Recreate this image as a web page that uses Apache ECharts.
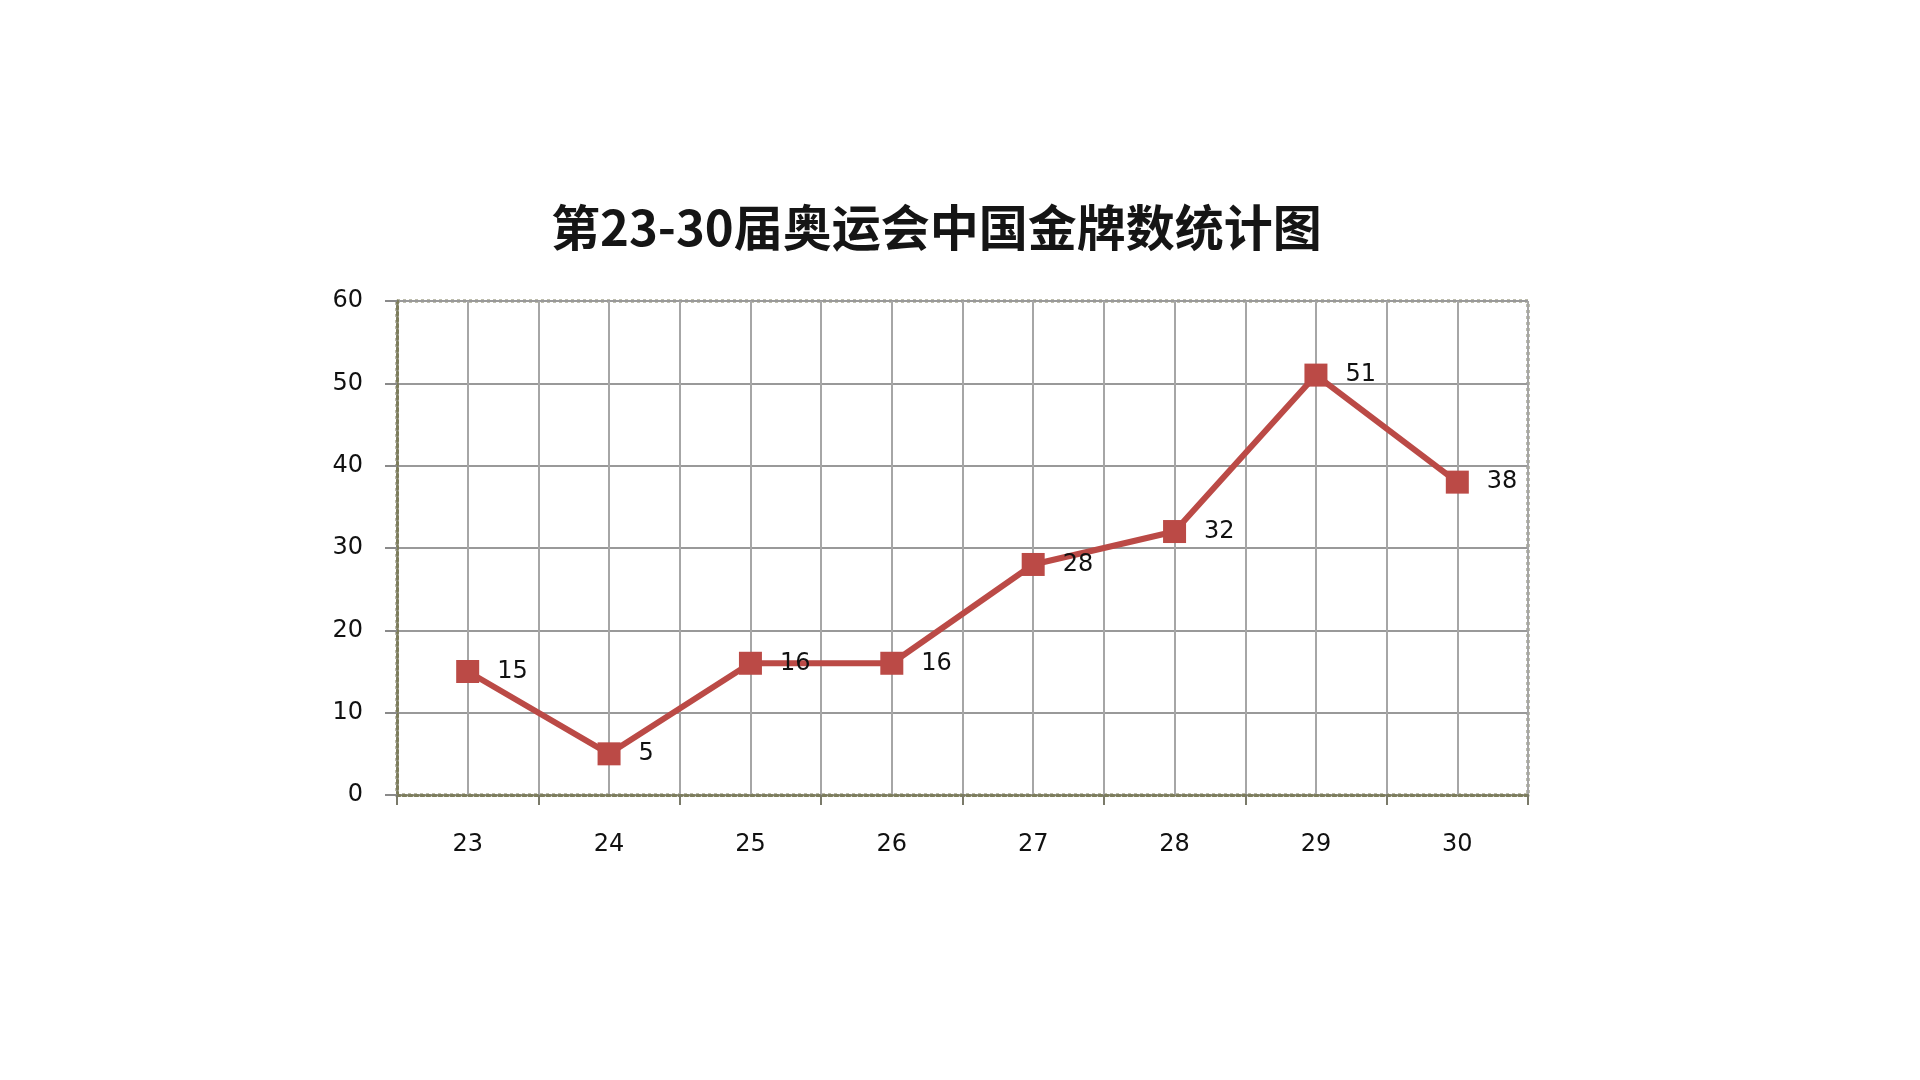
<!DOCTYPE html>
<html>
  <head>
    <meta charset="UTF-8">
    <title>第23-30届奥运会中国金牌数统计图</title>
    <script src="https://cdn.jsdelivr.net/npm/echarts@6/dist/echarts.min.js"></script>
    <style>
      html, body { margin: 0; padding: 0; background: #fff; }
      #chart { width: 1920px; height: 1080px; }
    </style>
  </head>
  <body>
    <div id="chart"></div>
    <script>
// data
const sessions = ['23', '24', '25', '26', '27', '28', '29', '30'];
const goldMedals = [15, 5, 16, 16, 28, 32, 51, 38];
const yTicks = [0, 10, 20, 30, 40, 50, 60];
// half-category slots, only used to draw the extra vertical grid lines
const halfSlots = sessions.flatMap(s => [s + 'a', s + 'b']);

const chart = echarts.init(document.getElementById('chart'), null, {renderer: 'canvas'});

const frameColor = '#7d7d5c';
const gridColor = '#a6a6a6';
const labelFont = 'DejaVu Sans';

chart.setOption({
  animation: false,
  backgroundColor: '#fff',
  title: {
    text: '第23-30届奥运会中国金牌数统计图',
    left: 546,
    top: 198,
    textStyle: {
      fontFamily: 'Noto Sans CJK SC',
      fontSize: 49,
      fontWeight: 'bold',
      color: '#151515'
    }
  },
  grid: {
    left: 397,
    right: 392,
    top: 301,
    bottom: 285,
    show: true,
    borderColor: frameColor,
    borderWidth: 3,
    borderType: 'dotted'
  },
  xAxis: [
    {
      type: 'category',
      data: sessions,
      boundaryGap: true,
      axisLine: {lineStyle: {color: frameColor, width: 3, type: 'dotted'}},
      axisTick: {show: true, length: 10, lineStyle: {color: '#7a7a6a', width: 2}},
      axisLabel: {margin: 38, fontFamily: labelFont, fontSize: 24, color: '#111'},
      splitLine: {show: false}
    },
    {
      type: 'category',
      data: halfSlots,
      boundaryGap: true,
      position: 'top',
      axisLine: {show: false},
      axisTick: {show: false},
      axisLabel: {show: false},
      splitLine: {show: true, lineStyle: {color: gridColor, width: 2}}
    }
  ],
  yAxis: {
    type: 'value',
    min: yTicks[0],
    max: yTicks[yTicks.length - 1],
    interval: yTicks[1] - yTicks[0],
    axisLine: {show: true, lineStyle: {color: frameColor, width: 3, type: 'dotted'}},
    axisTick: {show: true, length: 12, lineStyle: {color: '#8a8a8a', width: 2}},
    axisLabel: {margin: 34, fontFamily: labelFont, fontSize: 24, color: '#111'},
    splitLine: {show: true, lineStyle: {color: '#999', width: 2}}
  },
  series: [
    {
      type: 'line',
      data: goldMedals,
      xAxisIndex: 0,
      symbol: 'rect',
      symbolSize: 23,
      lineStyle: {color: '#bb4a46', width: 6},
      itemStyle: {color: '#bb4a46'},
      label: {
        show: true,
        position: 'right',
        distance: 18,
        fontFamily: labelFont,
        fontSize: 24,
        color: '#111'
      },
      z: 5
    }
  ]
});
    </script>
  </body>
</html>
